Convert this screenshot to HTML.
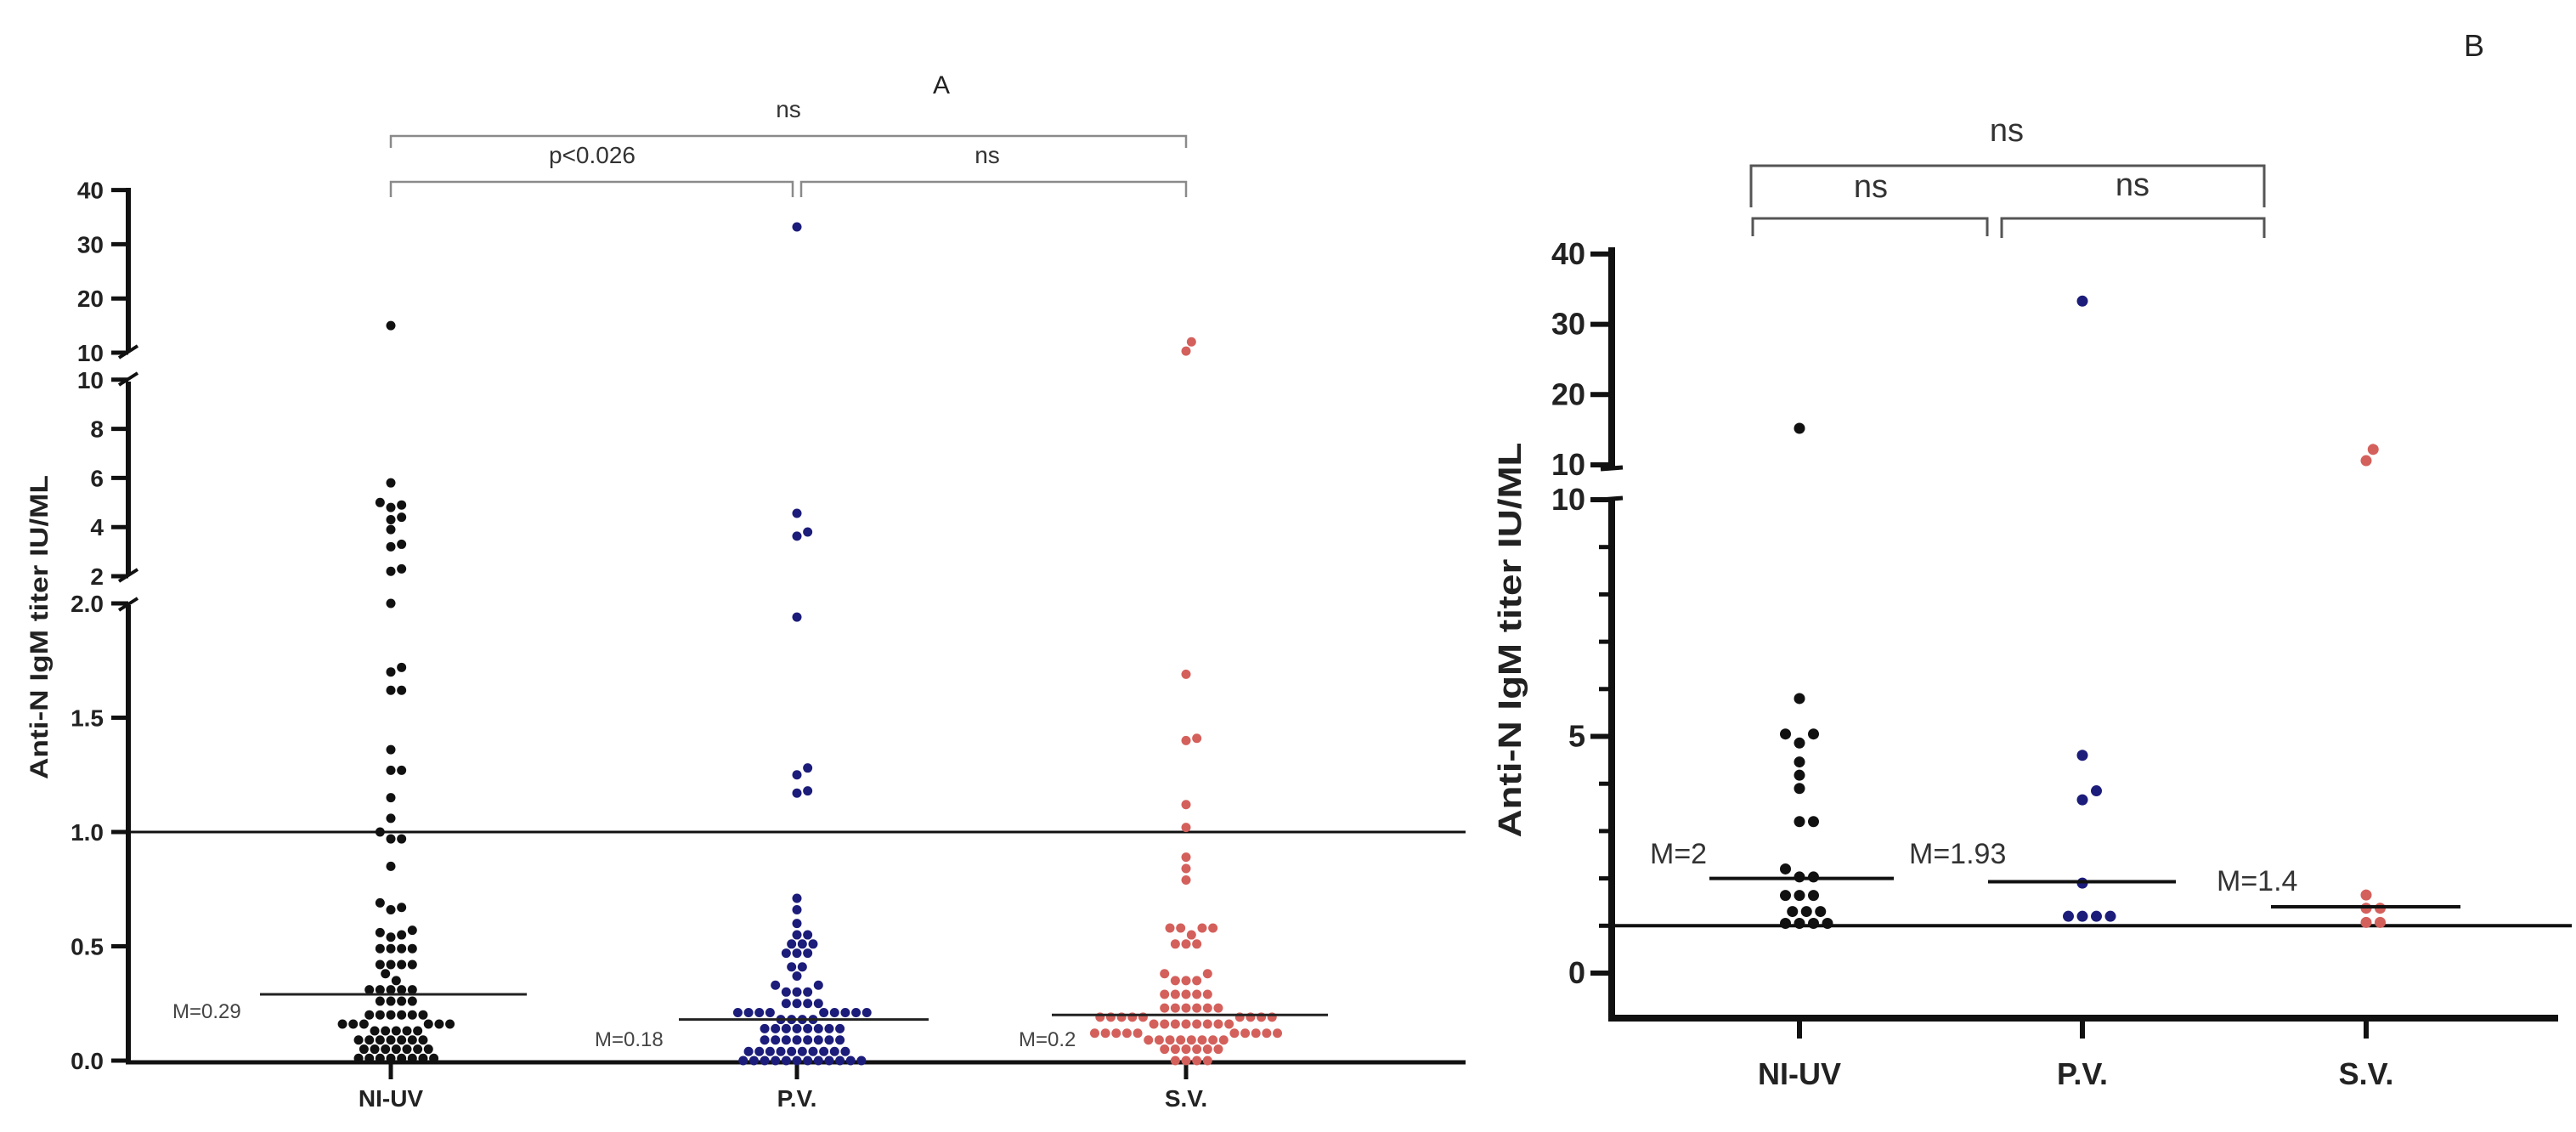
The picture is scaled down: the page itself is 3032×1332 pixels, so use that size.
<!DOCTYPE html>
<html><head><meta charset="utf-8"><style>
html,body{margin:0;padding:0;background:#fff}
svg{display:block}
text{font-family:"Liberation Sans",Arial,sans-serif}
</style></head><body>
<svg id="chart" width="3032" height="1332" viewBox="0 0 3032 1332" xmlns="http://www.w3.org/2000/svg">
<g id="A"></g>
<g id="B"></g>
</svg>
<script>
const categories = ["NI-UV","P.V.","S.V."];
const colors = ["#111111","#1c1c7a","#d4605c"];
const aNI = [15,5.8,5.0,4.9,4.8,4.4,4.3,3.9,3.3,3.2,2.3,2.2,2.0,1.72,1.70,1.62,1.62,1.36,1.27,1.27,1.15,1.06,1.0,0.97,0.97,0.85,0.69,0.67,0.66,0.57,0.56,0.55,0.54,0.49,0.49,0.49,0.49,0.42,0.42,0.42,0.42,0.38,0.35,0.31,0.31,0.31,0.31,0.31,0.26,0.26,0.26,0.26,0.20,0.20,0.20,0.20,0.20,0.20,0.16,0.16,0.16,0.16,0.16,0.16,0.13,0.13,0.13,0.13,0.13,0.09,0.09,0.09,0.09,0.09,0.09,0.09,0.05,0.05,0.05,0.05,0.05,0.05,0.05,0.01,0.01,0.01,0.01,0.01,0.01,0.01,0.01];
const aPV = [33.2,4.56,3.8,3.63,1.94,1.28,1.25,1.18,1.17,0.71,0.66,0.60,0.55,0.55,0.51,0.51,0.51,0.47,0.47,0.47,0.41,0.41,0.37,0.33,0.33,0.30,0.30,0.30,0.25,0.25,0.25,0.25,0.21,0.21,0.21,0.21,0.21,0.21,0.21,0.21,0.21,0.18,0.18,0.18,0.18,0.14,0.14,0.14,0.14,0.14,0.14,0.14,0.14,0.09,0.09,0.09,0.09,0.09,0.09,0.09,0.09,0.04,0.04,0.04,0.04,0.04,0.04,0.04,0.04,0.04,0.04,0.0,0.0,0.0,0.0,0.0,0.0,0.0,0.0,0.0,0.0,0.0,0.0];
const aSV = [12,10.3,1.69,1.41,1.40,1.12,1.02,0.89,0.84,0.79,0.58,0.58,0.58,0.58,0.55,0.51,0.51,0.51,0.38,0.38,0.35,0.35,0.35,0.29,0.29,0.29,0.29,0.29,0.23,0.23,0.23,0.23,0.23,0.23,0.19,0.19,0.19,0.19,0.19,0.19,0.19,0.19,0.19,0.16,0.16,0.16,0.16,0.16,0.16,0.16,0.16,0.12,0.12,0.12,0.12,0.12,0.12,0.12,0.12,0.12,0.12,0.09,0.09,0.09,0.09,0.09,0.09,0.09,0.09,0.05,0.05,0.05,0.05,0.05,0.05,0.0,0.0,0.0,0.0];
const aMedians = [0.29,0.18,0.2];
const aMedianLabels = ["M=0.29","M=0.18","M=0.2"];
const bNI = [15.2,5.8,5.05,5.05,4.86,4.46,4.18,3.9,3.2,3.2,2.2,2.03,2.03,1.64,1.64,1.64,1.3,1.3,1.3,1.05,1.05,1.05,1.05];
const bPV = [33.3,4.6,3.85,3.66,1.9,1.2,1.2,1.2,1.2];
const bSV = [12.2,10.6,1.65,1.37,1.37,1.07,1.07];
const bMedians = [2,1.93,1.4];
const bMedianLabels = ["M=2","M=1.93","M=1.4"];
const aTicks = [0,0.5,1.0,1.5,2.0,2,4,6,8,10,10,20,30,40];
const aTickLabels = ["0.0","0.5","1.0","1.5","2.0","2","4","6","8","10","10","20","30","40"];
const aTickSeg = [0,0,0,0,0,1,1,1,1,1,2,2,2,2];
const bTicks = [0,5,10,10,20,30,40];
const bTickLabels = ["0","5","10","10","20","30","40"];
const bTickSeg = [0,0,0,1,1,1,1];
const bMinor = [1,2,3,4,6,7,8,9];

const NS="http://www.w3.org/2000/svg";
function mk(parent,tag,attrs,txt){const e=document.createElementNS(NS,tag);for(const k in attrs)e.setAttribute(k,attrs[k]);if(txt!==undefined)e.textContent=txt;parent.appendChild(e);return e;}

function yA(v,seg){ if(seg===undefined) seg = v<=2?0:(v<=10?1:2);
  if(seg===0) return 1248 - v*269;
  if(seg===1) return 678 - (v-2)*28.9;
  return 415 - (v-10)*6.38; }
const xA = [460,938,1396];
function yB(v,seg){ if(seg===undefined) seg = v<=10?0:1;
  if(seg===0) return 1145 - v*55.7;
  return 547 - (v-10)*8.27; }
const xB = [2118,2451,2785];

function swarm(vals, cx, yf, d){
  const placed=[]; const out=[];
  const sorted = vals.map((v,i)=>({v,i})).sort((a,b)=>a.v-b.v);
  for(const p of sorted){
    const y=yf(p.v); let best=null;
    for(let k=0;k<60;k++){
      const off = (k%2?1:-1)*Math.ceil(k/2)*d*0.55;
      const x=cx+off;
      if(placed.every(q=>(q.x-x)**2+(q.y-y)**2>=d*d*0.95)){best=x;break;}
    }
    if(best===null)best=cx;
    placed.push({x:best,y}); out.push({x:best,y,v:p.v});
  }
  return out;
}

// ---------- Panel A ----------
const A=document.getElementById('A');
let e=mk(A,'line',{x1:151,x2:1725,y1:yA(1.0),y2:yA(1.0),stroke:'#111','stroke-width':3});
 
const axA=mk(A,'g',{});
 
mk(axA,'line',{x1:151,x2:151,y1:yA(0)+3,y2:712,stroke:'#111','stroke-width':6});
mk(axA,'line',{x1:151,x2:151,y1:676,y2:449,stroke:'#111','stroke-width':6});
mk(axA,'line',{x1:151,x2:151,y1:413,y2:221,stroke:'#111','stroke-width':6});
[[718,704],[684,670],[453,439],[421,407]].forEach(a=>mk(axA,'line',{x1:140,y1:a[0],x2:162,y2:a[1],stroke:'#111','stroke-width':4}));
aTicks.forEach((t,i)=>{const y=yA(t,aTickSeg[i]);
  mk(axA,'line',{x1:131,x2:151,y1:y,y2:y,stroke:'#111','stroke-width':5});
  const tx=mk(axA,'text',{x:122,y:y+10,'text-anchor':'end','font-size':28,'font-weight':'bold',fill:'#222'},aTickLabels[i]);
   
});
const xaxA=mk(A,'line',{x1:148,x2:1725,y1:1250,y2:1250,stroke:'#111','stroke-width':5});
 
e=mk(A,'text',{transform:'translate(56,738) rotate(-90)','text-anchor':'middle','font-size':30,'font-weight':'bold',fill:'#222',textLength:358,lengthAdjust:'spacingAndGlyphs'},'Anti-N IgM titer IU/ML');
 
e=mk(A,'text',{x:1108,y:110,'text-anchor':'middle','font-size':30,fill:'#222'},'A');
 
const aData=[aNI,aPV,aSV];
categories.forEach((c,ci)=>{
  mk(A,'line',{x1:xA[ci],x2:xA[ci],y1:1250,y2:1270,stroke:'#111','stroke-width':5});
  const lb=mk(A,'text',{x:xA[ci],y:1302,'text-anchor':'middle','font-size':28,'font-weight':'bold',fill:'#222'},c);
   
  const grp=mk(A,'g',{});
   
  swarm(aData[ci],xA[ci],v=>yA(v),11.5).forEach(p=>{
    const dot=mk(grp,'circle',{cx:p.x,cy:p.y,r:5.5,fill:colors[ci]});
     
  });
  const ml=mk(A,'line',{x1:[306,799,1238][ci],x2:[620,1093,1563][ci],y1:yA(aMedians[ci]),y2:yA(aMedians[ci]),stroke:'#222','stroke-width':3});
   
  const mt=mk(A,'text',{x:[203,700,1199][ci],y:[1198,1231,1231][ci],'font-size':24,fill:'#444'},aMedianLabels[ci]);
   
});
const brA=mk(A,'g',{stroke:'#8a8a8a','stroke-width':2.5,fill:'none'});
 
mk(brA,'path',{d:'M460,174 V160 H1396 V174'});
mk(brA,'path',{d:'M460,232 V214 H933 V232'});
mk(brA,'path',{d:'M943,232 V214 H1396 V232'});
[['ns',928,138],['p<0.026',697,192],['ns',1162,192]].forEach(t=>{
  const tt=mk(A,'text',{x:t[1],y:t[2],'text-anchor':'middle','font-size':28,fill:'#333'},t[0]);
   
});

// ---------- Panel B ----------
const B=document.getElementById('B');
e=mk(B,'line',{x1:1897,x2:3027,y1:yB(1),y2:yB(1),stroke:'#111','stroke-width':4});
 
const axB=mk(B,'g',{});
 
mk(axB,'line',{x1:1897,x2:1897,y1:1202,y2:yB(10,0)-2,stroke:'#111','stroke-width':8});
mk(axB,'line',{x1:1897,x2:1897,y1:yB(10,1)+3,y2:291,stroke:'#111','stroke-width':8});
[[596,578],[560,542]].forEach(a=>mk(axB,'line',{x1:1884,y1:a[0]-8,x2:1910,y2:a[1]+8,stroke:'#111','stroke-width':5}));
bTicks.forEach((t,i)=>{const y=yB(t,bTickSeg[i]);
  mk(axB,'line',{x1:1872,x2:1897,y1:y,y2:y,stroke:'#111','stroke-width':6});
  const tx=mk(axB,'text',{x:1866,y:y+12,'text-anchor':'end','font-size':36,'font-weight':'bold',fill:'#222'},bTickLabels[i]);
   
});
bMinor.forEach(t=>{const y=yB(t,0); mk(axB,'line',{x1:1882,x2:1897,y1:y,y2:y,stroke:'#111','stroke-width':5});});
e=mk(B,'line',{x1:1893,x2:3011,y1:1198,y2:1198,stroke:'#111','stroke-width':8});
 
e=mk(B,'text',{transform:'translate(1790,753) rotate(-90)','text-anchor':'middle','font-size':38,'font-weight':'bold',fill:'#222',textLength:465,lengthAdjust:'spacingAndGlyphs'},'Anti-N IgM titer IU/ML');
 
e=mk(B,'text',{x:2912,y:66,'text-anchor':'middle','font-size':36,fill:'#222'},'B');
 
const bData=[bNI,bPV,bSV];
categories.forEach((c,ci)=>{
  mk(B,'line',{x1:xB[ci],x2:xB[ci],y1:1198,y2:1222,stroke:'#111','stroke-width':6});
  const lb=mk(B,'text',{x:xB[ci],y:1276,'text-anchor':'middle','font-size':36,'font-weight':'bold',fill:'#222'},c);
   
  const grp=mk(B,'g',{});
   
  swarm(bData[ci],xB[ci],v=>yB(v),15).forEach(p=>{
    const dot=mk(grp,'circle',{cx:p.x,cy:p.y,r:6.5,fill:colors[ci]});
     
  });
  const ml=mk(B,'line',{x1:[2012,2340,2673][ci],x2:[2229,2561,2896][ci],y1:yB(bMedians[ci]),y2:yB(bMedians[ci]),stroke:'#111','stroke-width':4});
   
  const mt=mk(B,'text',{x:[1942,2247,2609][ci],y:[1016,1016,1048][ci],'font-size':34,fill:'#333'},bMedianLabels[ci]);
   
});
const brB=mk(B,'g',{stroke:'#555','stroke-width':3,fill:'none'});
 
mk(brB,'path',{d:'M2061,244 V195 H2665 V244'});
mk(brB,'path',{d:'M2063,278 V257 H2339 V278'});
mk(brB,'path',{d:'M2356,280 V257 H2665 V280'});
[['ns',2362,166],['ns',2202,232],['ns',2510,230]].forEach(t=>{
  const tt=mk(B,'text',{x:t[1],y:t[2],'text-anchor':'middle','font-size':38,fill:'#333'},t[0]);
   
});
</script>
</body></html>
